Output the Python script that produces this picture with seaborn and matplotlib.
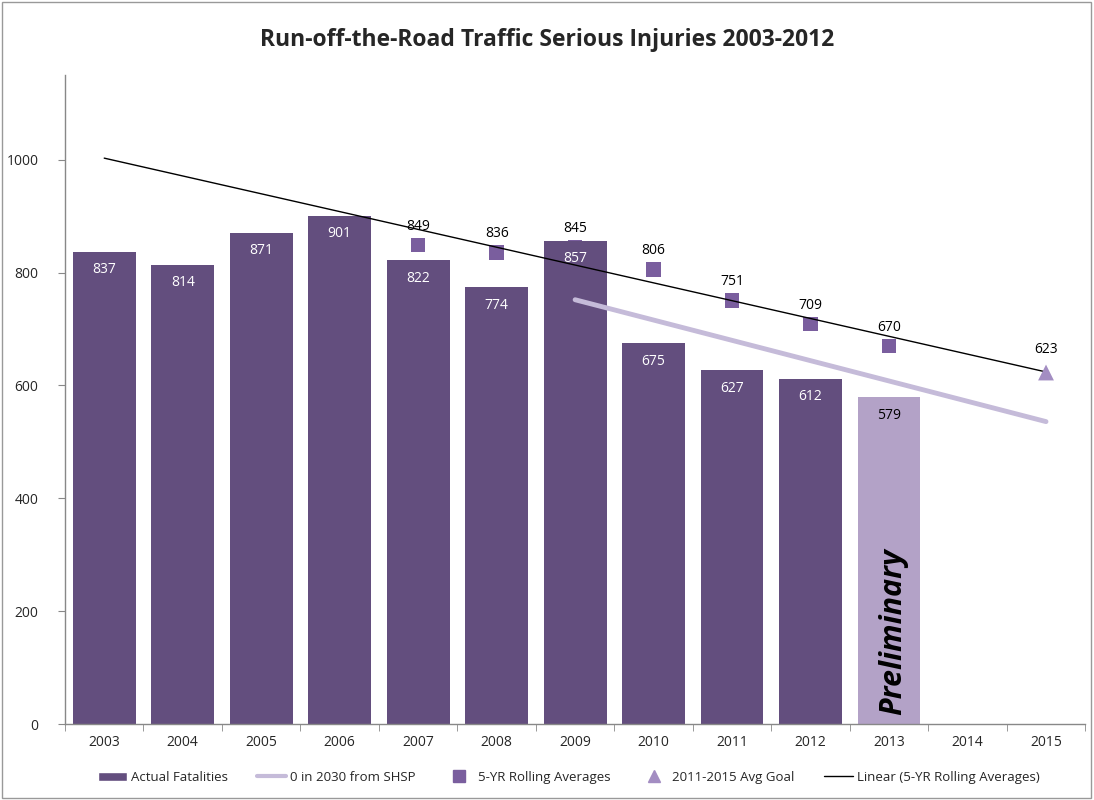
import matplotlib
matplotlib.use('Agg')
import matplotlib.pyplot as plt
import seaborn as sns
import pandas as pd
from matplotlib.lines import Line2D
from matplotlib.patches import Patch, Rectangle

years = list(range(2003, 2016))
bar_years = [2003, 2004, 2005, 2006, 2007, 2008, 2009, 2010, 2011, 2012, 2013]
bar_values = [837, 814, 871, 901, 822, 774, 857, 675, 627, 612, 579]
bar_status = ['Actual'] * 10 + ['Preliminary']

avg_years = [2007, 2008, 2009, 2010, 2011, 2012, 2013]
avg_values = [849, 836, 845, 806, 751, 709, 670]

goal_years = [2015]
goal_values = [623]

shsp_years = [2009, 2015]
shsp_values = [752, 536]

trend_years = [2003, 2015]
trend_values = [1003, 624]

BAR = '#634E7E'
BAR_PRELIM = '#B3A2C7'
SQUARE = '#7A5E9E'
TRI = '#A38DC2'
SHSP = '#C5BBD9'

sns.set_style('white')
plt.rcParams['font.family'] = ['Open Sans', 'DejaVu Sans']

fig = plt.figure(figsize=(10.94, 8), dpi=100)
ax = fig.add_axes([0.0594, 0.095, 0.9326, 0.811])

bars = pd.DataFrame({'year': bar_years, 'value': bar_values, 'status': bar_status})
avg = pd.DataFrame({'year': avg_years, 'value': avg_values})

# squares sit behind the bars (2009 point is hidden by its bar)
sns.scatterplot(data=avg, x='year', y='value', marker='s', s=110, color=SQUARE,
                edgecolor='none', ax=ax, zorder=1)
sns.barplot(data=bars, x='year', y='value', hue='status', native_scale=True,
            palette={'Actual': BAR, 'Preliminary': BAR_PRELIM}, dodge=False,
            width=0.8, legend=False, ax=ax, zorder=2, linewidth=0, saturation=1)
sns.lineplot(x=shsp_years, y=shsp_values, color=SHSP, linewidth=3.5, ax=ax, zorder=3)
sns.lineplot(x=trend_years, y=trend_values, color='black', linewidth=1, ax=ax, zorder=4)
sns.scatterplot(x=goal_years, y=goal_values, marker='^', s=130, color=TRI,
                edgecolor='none', ax=ax, zorder=5)

# labels inside bars
for y, v, s in zip(bar_years, bar_values, bar_status):
    col = 'white' if s == 'Actual' else 'black'
    ax.text(y, v - 32, str(v), ha='center', va='center', color=col, fontsize=10)

for y, v in zip(avg_years, avg_values):
    ax.text(y, v + 33, str(v), ha='center', va='center', color='black', fontsize=10)
for y, v in zip(goal_years, goal_values):
    ax.text(y, v + 40, str(v), ha='center', va='center', color='black', fontsize=10)

ax.text(2013.05, 163, 'Preliminary', rotation=90, ha='center', va='center',
        fontsize=22, fontweight='bold', fontstyle='italic', color='black', zorder=6)

ax.set_xlim(2002.5, 2015.5)
ax.set_ylim(0, 1150)
ax.set_xticks(years)
ax.set_xticklabels([str(y) for y in years], fontsize=10)
ax.set_xticks([y + 0.5 for y in range(2002, 2016)], minor=True)
ax.set_yticks([0, 200, 400, 600, 800, 1000])
ax.set_yticklabels(['0', '200', '400', '600', '800', '1000'], fontsize=10)
ax.tick_params(axis='x', which='major', length=0, pad=8)
ax.tick_params(axis='x', which='minor', length=5, color='#888888', bottom=True)
ax.tick_params(axis='y', length=5, color='#888888', left=True, pad=14)
ax.set_xlabel('')
ax.set_ylabel('')
for side in ['top', 'right']:
    ax.spines[side].set_visible(False)
for side in ['left', 'bottom']:
    ax.spines[side].set_color('#888888')
    ax.spines[side].set_linewidth(1)

fig.suptitle('Run-off-the-Road Traffic Serious Injuries 2003-2012', y=0.965,
             fontsize=16.5, fontweight='bold')

handles = [
    Patch(facecolor=BAR, label='Actual Fatalities'),
    Line2D([], [], color=SHSP, linewidth=3, label='0 in 2030 from SHSP'),
    Line2D([], [], color=SQUARE, marker='s', linestyle='none', markersize=8,
           label='5-YR Rolling Averages'),
    Line2D([], [], color=TRI, marker='^', linestyle='none', markersize=8,
           label='2011-2015 Avg Goal'),
    Line2D([], [], color='black', linewidth=1, label='Linear (5-YR Rolling Averages)'),
]
fig.legend(handles=handles, loc='center', bbox_to_anchor=(0.52, 0.028), ncol=5,
           frameon=False, fontsize=9.5, handlelength=2.2, columnspacing=2.2,
           handletextpad=0.3)

fig.add_artist(Rectangle((0.002, 0.002), 0.995, 0.995, transform=fig.transFigure,
                         fill=False, edgecolor='#999999', linewidth=1))

fig.savefig('out.png', dpi=100)
